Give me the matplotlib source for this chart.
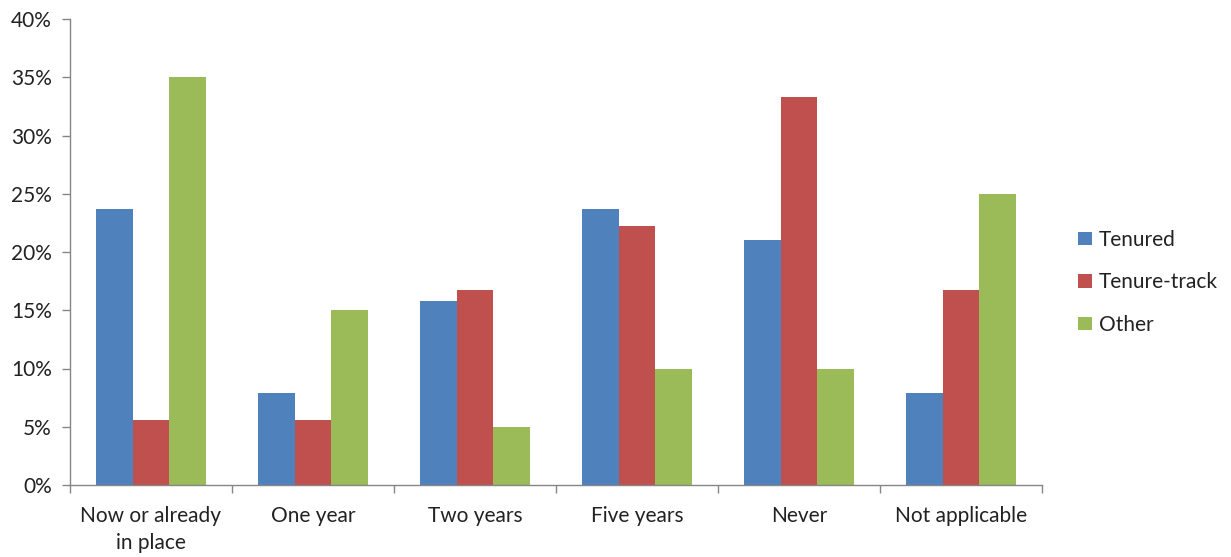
import matplotlib
matplotlib.use("Agg")
import matplotlib.pyplot as plt
import numpy as np
from matplotlib.ticker import FixedLocator, PercentFormatter

categories = ["Now or already\nin place", "One year", "Two years", "Five years", "Never", "Not applicable"]
tenured = [23.7, 7.9, 15.8, 23.7, 21.0, 7.9]
tenure_track = [5.6, 5.6, 16.7, 22.2, 33.3, 16.7]
other = [35.0, 15.0, 5.0, 10.0, 10.0, 25.0]
series_names = ["Tenured", "Tenure-track", "Other"]
colors = ["#4F81BD", "#C0504D", "#9BBB59"]

plt.rcParams["font.family"] = ["Lato", "DejaVu Sans"]
FS = 15.0
TXT = "#222222"

fig = plt.figure(figsize=(12.31, 5.57), dpi=100)
ax = fig.add_axes([70 / 1231, 72 / 557, 972 / 1231, 466 / 557])

x = np.arange(len(categories))
w = 0.225
for i, (vals, name, c) in enumerate(zip([tenured, tenure_track, other], series_names, colors)):
    ax.bar(x + (i - 1) * w, vals, width=w, color=c, label=name, edgecolor="none")

ax.set_xlim(-0.5, len(categories) - 0.5)
ax.set_ylim(0, 40)
ax.set_yticks(np.arange(0, 41, 5))
ax.yaxis.set_major_formatter(PercentFormatter(decimals=0))

ax.set_xticks(x)
ax.set_xticklabels(categories, linespacing=1.45)
ax.xaxis.set_minor_locator(FixedLocator(np.arange(-0.5, len(categories), 1.0)))
ax.tick_params(axis="x", which="major", length=0, pad=15, labelsize=FS, colors=TXT)
ax.tick_params(axis="x", which="minor", length=6, color="#868686", width=1)
ax.tick_params(axis="y", length=6, color="#868686", width=1, labelsize=FS, colors=TXT, pad=7)

for s in ["top", "right"]:
    ax.spines[s].set_visible(False)
for s in ["left", "bottom"]:
    ax.spines[s].set_color("#868686")
    ax.spines[s].set_linewidth(1)

leg = ax.legend(loc="center left", bbox_to_anchor=(1.018, 0.435), frameon=False,
                fontsize=FS, handlelength=0.65, handleheight=0.65, handletextpad=0.35,
                labelspacing=1.08)
for t in leg.get_texts():
    t.set_color(TXT)

fig.savefig("out.png", dpi=100)
